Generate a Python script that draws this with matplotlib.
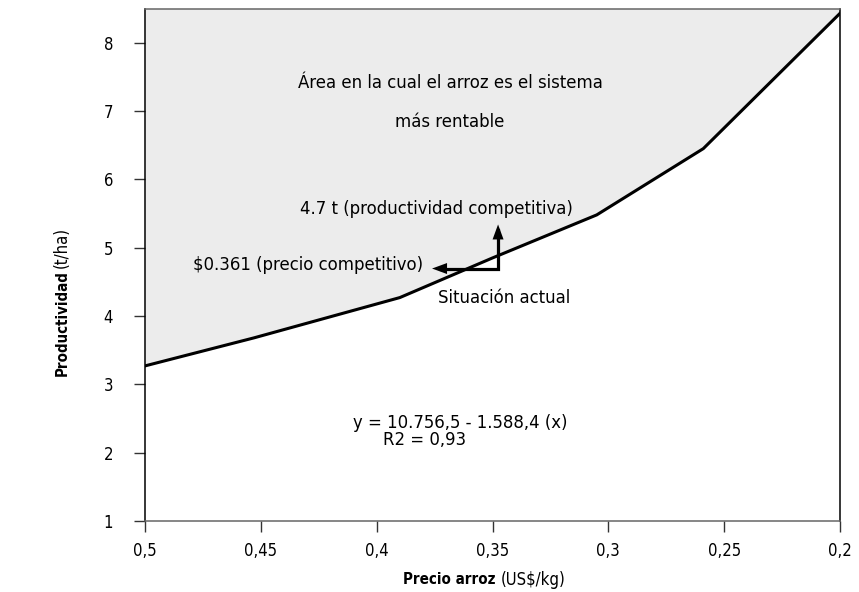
import numpy as np
import matplotlib
matplotlib.use("Agg")
import matplotlib.pyplot as plt

# curve (price US$/kg vs productivity t/ha)
precio = [0.5, 0.453, 0.39, 0.35, 0.305, 0.259, 0.2]
productividad = [3.27, 3.68, 4.27, 4.85, 5.48, 6.45, 8.43]

x_ticks = [0.5, 0.45, 0.4, 0.35, 0.3, 0.25, 0.2]
x_labels = ["0,5", "0,45", "0,4", "0,35", "0,3", "0,25", "0,2"]
y_ticks = [1, 2, 3, 4, 5, 6, 7, 8]

# "situacion actual" arrows
punto_actual = (0.3476, 4.695)
precio_comp = 0.3761
prod_comp = 5.34

plt.rcParams['font.family'] = ['DejaVu Sans']
plt.rcParams['font.stretch'] = 'condensed'

fig = plt.figure(figsize=(8.59, 5.92), dpi=100)
ax = fig.add_axes([0.1688, 0.1199, 0.8091, 0.8657])

ax.fill_between(precio, productividad, 8.5, color='#ececec', lw=0)
ax.plot(precio, productividad, color='black', lw=2.2, solid_joinstyle='miter')

ax.set_xlim(0.5, 0.2)
ax.set_ylim(1, 8.5)
ax.set_xticks(x_ticks)
ax.set_xticklabels(x_labels)
ax.set_yticks(y_ticks)
ax.tick_params(axis='both', labelsize=12, length=8, width=1, color='#333333')
ax.tick_params(axis='y', pad=15)
ax.tick_params(axis='x', pad=7)

for s in ['left', 'right']:
    ax.spines[s].set_color('black')
for s in ['top', 'bottom']:
    ax.spines[s].set_color('#666666')
for s in ax.spines.values():
    s.set_linewidth(1.1)

# axis titles: bold part + normal part
ax.text(0.505, -0.115, "Precio arroz", fontweight='bold', fontsize=10.8, ha='right', va='center',
        transform=ax.transAxes)
ax.text(0.5122, -0.115, "(US$/kg)", fontsize=12, ha='left', va='center', transform=ax.transAxes)
ax.text(-0.1194, 0.4898, "Productividad", fontweight='bold', fontsize=10.8, ha='right', va='center',
        rotation=90, rotation_mode='anchor', transform=ax.transAxes)
ax.text(-0.1194, 0.4937, "(t/ha)", fontsize=12, ha='left', va='center',
        rotation=90, rotation_mode='anchor', transform=ax.transAxes)

# arrows from current point
ax.plot([precio_comp - 0.004, punto_actual[0], punto_actual[0]],
        [punto_actual[1], punto_actual[1], prod_comp - 0.08],
        color='black', lw=2.3, solid_joinstyle='miter')
head = dict(arrowstyle='-|>,head_length=0.9,head_width=0.33', color='black', lw=0,
            mutation_scale=12, shrinkA=0, shrinkB=0)
ax.annotate("", xy=(precio_comp, punto_actual[1]), xytext=(precio_comp - 0.01, punto_actual[1]),
            arrowprops=head)
ax.annotate("", xy=(punto_actual[0], prod_comp), xytext=(punto_actual[0], prod_comp - 0.2),
            arrowprops=head)

fs = 13.2
ax.text(0.3683, 7.41, "Área en la cual el arroz es el sistema", ha='center', va='center', fontsize=fs)
ax.text(0.3683, 6.84, "más rentable", ha='center', va='center', fontsize=fs)
ax.text(0.3744, 5.56, "4.7 t (productividad competitiva)", ha='center', va='center', fontsize=fs)
ax.text(0.38, 4.75, "$0.361 (precio competitivo)", ha='right', va='center', fontsize=fs)
ax.text(0.345, 4.27, "Situación actual", ha='center', va='center', fontsize=fs)
ax.text(0.4102, 2.44, "y = 10.756,5 - 1.588,4 (x)", ha='left', va='center', fontsize=fs)
ax.text(0.3973, 2.19, "R2 = 0,93", ha='left', va='center', fontsize=fs)

fig.savefig("out.png", dpi=100)
